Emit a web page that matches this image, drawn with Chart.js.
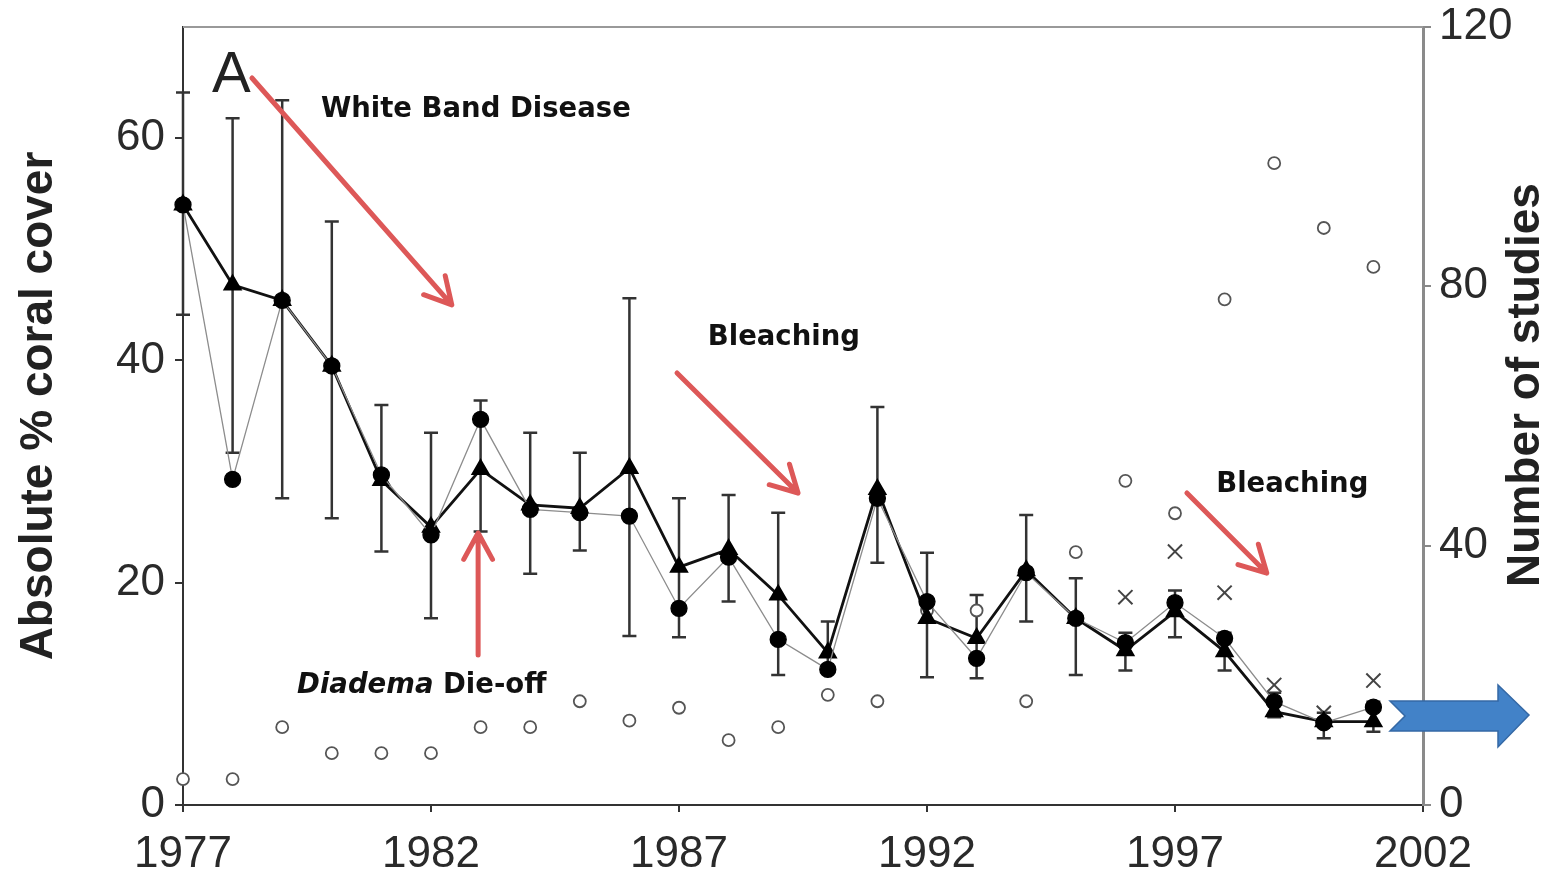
<!DOCTYPE html>
<html>
<head>
<meta charset="utf-8">
<script src="https://cdn.jsdelivr.net/npm/chart.js@4.4.1/dist/chart.umd.min.js"></script>
<style>
  html, body { margin: 0; padding: 0; background: #fff; }
  #wrap { width: 1550px; height: 879px; position: relative; }
</style>
</head>
<body>
<div id="wrap"><canvas id="coralChart"></canvas></div>
<script>
// Datos (cobertura de coral, 1977-2001)
const years = [1977, 1978, 1979, 1980, 1981, 1982, 1983, 1984, 1985, 1986, 1987, 1988, 1989,
               1990, 1991, 1992, 1993, 1994, 1995, 1996, 1997, 1998, 1999, 2000, 2001];
const coverTriangles = [54.0, 46.8, 45.4, 39.5, 29.2, 25.0, 30.2, 27.0, 26.7, 30.3, 21.4, 23.0, 18.9,
                        13.7, 28.4, 16.8, 15.0, 21.1, 16.8, 13.9, 17.4, 13.8, 8.4, 7.5, 7.5];
const coverCircles = [54.0, 29.3, 45.4, 39.5, 29.7, 24.3, 34.7, 26.6, 26.3, 26.0, 17.7, 22.3, 14.9,
                      12.2, 27.6, 18.3, 13.2, 20.9, 16.8, 14.6, 18.2, 15.0, 9.3, 7.4, 8.8];
const errLow = [44.1, 31.7, 27.6, 25.8, 22.8, 16.8, 24.6, 20.8, 22.9, 15.2, 15.1, 18.3, 11.7,
                12.0, 21.8, 11.5, 11.4, 16.5, 11.7, 12.1, 15.1, 12.1, 7.9, 6.0, 6.6];
const errHigh = [64.1, 61.8, 63.4, 52.5, 36.0, 33.5, 36.4, 33.5, 31.7, 45.6, 27.6, 27.9, 26.3,
                 16.5, 35.8, 22.7, 18.9, 26.1, 20.4, 15.5, 19.3, 15.5, 10.1, 8.3, 9.3];
const studyCounts = [4, 4, 12, 8, 8, 8, 12, 12, 16, 13, 15, 10, 12,
                     17, 16, 30, 30, 16, 39, 50, 45, 78, 99, 89, 83];
const crossYears = [1996, 1997, 1998, 1999, 2000, 2001];
const crossValues = [18.7, 22.8, 19.1, 10.8, 8.3, 11.2];
const xTicks = [1977, 1982, 1987, 1992, 1997, 2002];
const leftTicks = [0, 20, 40, 60];
const rightTicks = [0, 40, 80, 120];

const RED = 'rgb(221,88,88)';
const tickFont = { family: "'Liberation Sans', Arial, sans-serif", size: 44 };

function toPoints(xs, ys) {
    return xs.map((x, i) => ({ x: x, y: ys[i] }));
}

// Flecha roja con punta abierta
function redArrow(ctx, x1, y1, x2, y2) {
    const ang = Math.atan2(y2 - y1, x2 - x1);
    const len = 30;
    ctx.save();
    ctx.strokeStyle = RED;
    ctx.lineWidth = 5;
    ctx.lineCap = 'round';
    ctx.lineJoin = 'round';
    ctx.beginPath();
    ctx.moveTo(x1, y1);
    ctx.lineTo(x2, y2);
    ctx.moveTo(x2 - len * Math.cos(ang - 0.5), y2 - len * Math.sin(ang - 0.5));
    ctx.lineTo(x2, y2);
    ctx.lineTo(x2 - len * Math.cos(ang + 0.5), y2 - len * Math.sin(ang + 0.5));
    ctx.stroke();
    ctx.restore();
}

const decorPlugin = {
    id: 'decor',
    beforeDatasetsDraw(chart) {
        const ctx = chart.ctx, xs = chart.scales.x, ys = chart.scales.y;
        // barras de error
        ctx.save();
        ctx.strokeStyle = '#333';
        ctx.lineWidth = 2.5;
        years.forEach((yr, i) => {
            const px = xs.getPixelForValue(yr);
            const top = ys.getPixelForValue(errHigh[i]);
            const bot = ys.getPixelForValue(errLow[i]);
            ctx.beginPath();
            ctx.moveTo(px, top); ctx.lineTo(px, bot);
            ctx.moveTo(px - 7, top); ctx.lineTo(px + 7, top);
            ctx.moveTo(px - 7, bot); ctx.lineTo(px + 7, bot);
            ctx.stroke();
        });
        ctx.restore();
    },
    afterDraw(chart) {
        const ctx = chart.ctx, xs = chart.scales.x, ys = chart.scales.y;
        const area = chart.chartArea;
        const at = (xv, yv) => [xs.getPixelForValue(xv), ys.getPixelForValue(yv)];

        // borde superior
        ctx.save();
        ctx.strokeStyle = '#999';
        ctx.lineWidth = 2;
        ctx.beginPath();
        ctx.moveTo(area.left, area.top);
        ctx.lineTo(area.right, area.top);
        ctx.stroke();

        // títulos de los ejes
        ctx.fillStyle = '#222';
        ctx.font = "bold 46px 'Liberation Sans', Arial, sans-serif";
        ctx.textAlign = 'center';
        ctx.textBaseline = 'middle';
        ctx.save();
        ctx.translate(39, 406);
        ctx.rotate(-Math.PI / 2);
        ctx.fillText('Absolute % coral cover', 0, 0);
        ctx.restore();
        ctx.save();
        ctx.translate(1526, 385);
        ctx.rotate(-Math.PI / 2);
        ctx.fillText('Number of studies', 0, 0);
        ctx.restore();

        // letra del panel
        ctx.textAlign = 'left';
        ctx.textBaseline = 'alphabetic';
        ctx.font = "58px 'Liberation Sans', Arial, sans-serif";
        let p = at(1977.585, 64.15);
        ctx.fillText('A', p[0], p[1]);

        // anotaciones
        ctx.fillStyle = '#111';
        ctx.font = "bold 27.5px 'DejaVu Sans', Verdana, sans-serif";
        p = at(1979.78, 61.9);
        ctx.fillText('White Band Disease', p[0], p[1]);
        p = at(1987.58, 41.39);
        ctx.fillText('Bleaching', p[0], p[1]);
        p = at(1997.83, 28.16);
        ctx.fillText('Bleaching', p[0], p[1]);
        p = at(1979.30, 10.08);
        ctx.font = "italic bold 27.5px 'DejaVu Sans', Verdana, sans-serif";
        ctx.fillText('Diadema', p[0], p[1]);
        const w = ctx.measureText('Diadema').width;
        ctx.font = "bold 27.5px 'DejaVu Sans', Verdana, sans-serif";
        ctx.fillText(' Die-off', p[0] + w, p[1]);

        // flechas rojas
        let a = at(1978.39, 65.41), b = at(1982.42, 44.99);
        redArrow(ctx, a[0], a[1], b[0], b[1]);
        a = at(1986.96, 38.87); b = at(1989.40, 28.07);
        redArrow(ctx, a[0], a[1], b[0], b[1]);
        a = at(1997.24, 28.07); b = at(1998.85, 20.87);
        redArrow(ctx, a[0], a[1], b[0], b[1]);
        a = at(1982.95, 13.5); b = at(1982.95, 24.47);
        redArrow(ctx, a[0], a[1], b[0], b[1]);

        // flecha azul a la derecha
        const cy = ys.getPixelForValue(8.1);
        const r = area.right;
        ctx.beginPath();
        ctx.moveTo(r - 33, cy - 14);
        ctx.lineTo(r + 75, cy - 14);
        ctx.lineTo(r + 75, cy - 30);
        ctx.lineTo(r + 106, cy);
        ctx.lineTo(r + 75, cy + 32);
        ctx.lineTo(r + 75, cy + 16);
        ctx.lineTo(r - 33, cy + 16);
        ctx.lineTo(r - 18, cy + 1);
        ctx.closePath();
        ctx.fillStyle = 'rgb(66,130,200)';
        ctx.fill();
        ctx.strokeStyle = 'rgb(52,104,165)';
        ctx.lineWidth = 1.5;
        ctx.stroke();
        ctx.restore();
    }
};

// ancho fijo del eje vertical y sin relleno extra arriba/abajo
function fixVertical(width) {
    return s => {
        s.width = width;
        s.paddingTop = 0;
        s.paddingBottom = 0;
    };
}

const ctx = document.getElementById('coralChart').getContext('2d');
new Chart(ctx, {
    type: 'line',
    data: {
        datasets: [
            {
                label: 'Cobertura (círculos)',
                data: toPoints(years, coverCircles),
                yAxisID: 'y',
                borderColor: '#8c8c8c',
                borderWidth: 1.3,
                pointStyle: 'circle',
                pointRadius: 8,
                pointBackgroundColor: '#000',
                pointBorderColor: '#000',
                clip: false
            },
            {
                label: 'Cobertura (triángulos)',
                data: toPoints(years, coverTriangles),
                yAxisID: 'y',
                borderColor: '#111',
                borderWidth: 2.8,
                pointStyle: 'triangle',
                pointRadius: 8.5,
                pointBackgroundColor: '#000',
                pointBorderColor: '#000',
                clip: false
            },
            {
                label: 'Número de estudios',
                data: toPoints(years, studyCounts),
                yAxisID: 'y2',
                showLine: false,
                pointStyle: 'circle',
                pointRadius: 6,
                pointBackgroundColor: '#fff',
                pointBorderColor: '#555',
                pointBorderWidth: 1.8,
                clip: false
            },
            {
                label: 'x',
                data: toPoints(crossYears, crossValues),
                yAxisID: 'y',
                showLine: false,
                pointStyle: 'crossRot',
                pointRadius: 10,
                pointBorderColor: '#444',
                pointBorderWidth: 2,
                clip: false
            }
        ]
    },
    options: {
        responsive: true,
        maintainAspectRatio: false,
        animation: false,
        layout: { padding: { top: 27, left: 0, right: 0, bottom: 0 } },
        plugins: { legend: { display: false }, tooltip: { enabled: false } },
        scales: {
            x: {
                type: 'linear',
                min: 1977,
                max: 2002,
                afterBuildTicks: s => { s.ticks = xTicks.map(v => ({ value: v })); },
                afterFit: s => { s.height = 74; s.paddingLeft = 0; s.paddingRight = 0; },
                grid: { drawOnChartArea: false, drawTicks: true, tickLength: 7, color: '#333', lineWidth: 2 },
                border: { color: '#333', width: 2 },
                ticks: { font: tickFont, color: '#2a2a2a', padding: 16, maxRotation: 0, autoSkip: false,
                         callback: v => String(v) }
            },
            y: {
                position: 'left',
                min: 0,
                max: 70,
                afterBuildTicks: s => { s.ticks = leftTicks.map(v => ({ value: v })); },
                afterFit: fixVertical(183),
                grid: { drawOnChartArea: false, drawTicks: true, tickLength: 8, color: '#333', lineWidth: 2 },
                border: { color: '#333', width: 2 },
                ticks: { font: tickFont, color: '#2a2a2a', padding: 10 }
            },
            y2: {
                position: 'right',
                min: 0,
                max: 120,
                afterBuildTicks: s => { s.ticks = rightTicks.map(v => ({ value: v })); },
                afterFit: fixVertical(127),
                grid: { drawOnChartArea: false, drawTicks: true, tickLength: 8, color: '#888', lineWidth: 2 },
                border: { color: '#8a8a8a', width: 3 },
                ticks: { font: tickFont, color: '#2a2a2a', padding: 8 }
            }
        }
    },
    plugins: [decorPlugin]
});
</script>
</body>
</html>
